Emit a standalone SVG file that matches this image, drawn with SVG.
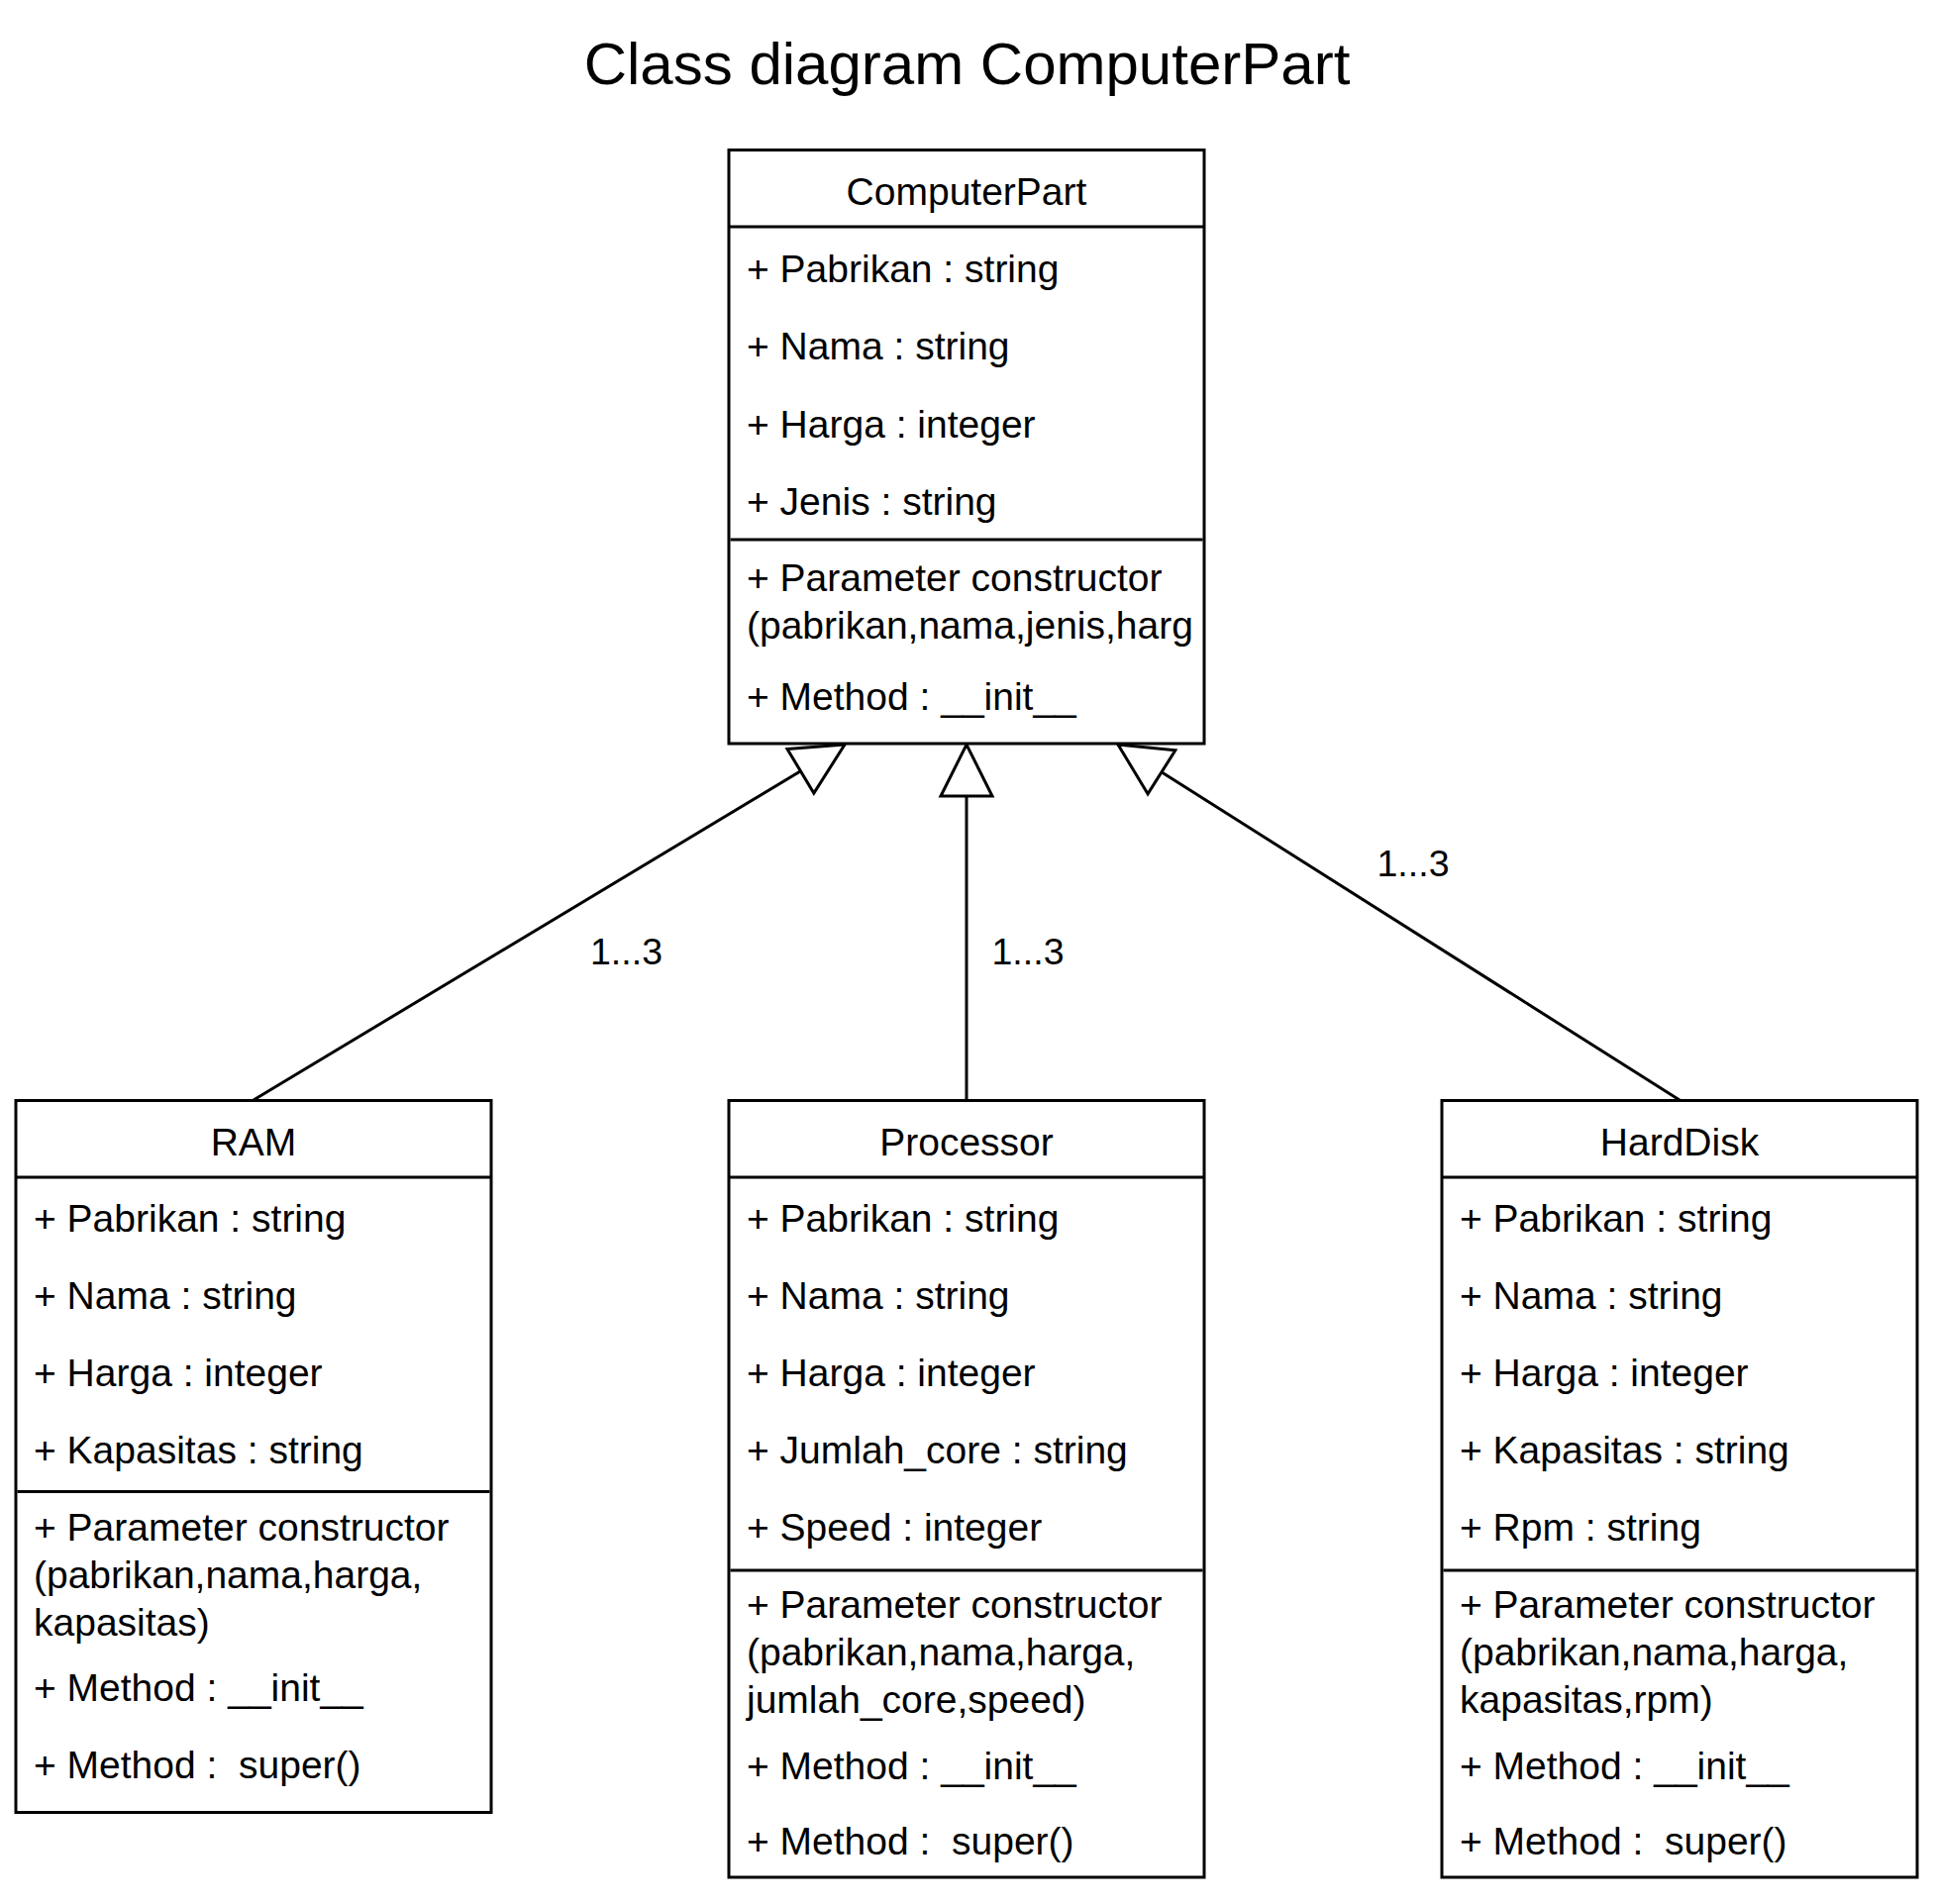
<svg xmlns="http://www.w3.org/2000/svg" width="1956" height="1923" viewBox="0 0 1956 1923">
<style>
text{font-family:"Liberation Sans",Arial,Helvetica,sans-serif;fill:#000;white-space:pre}
.t{font-size:39px}
.h{font-size:39px;text-anchor:middle}
.lbl{font-size:37.5px;text-anchor:middle}
.title{font-size:60px;text-anchor:middle}
.box{fill:#fff;stroke:#000;stroke-width:3}
.ln{stroke:#000;stroke-width:3;fill:none}
.edge{stroke:#000;stroke-width:3;fill:none;marker-end:url(#inh)}
</style>
<defs>
<marker id="inh" viewBox="-4 -4 60 60" refX="52" refY="26" markerWidth="60" markerHeight="60" markerUnits="userSpaceOnUse" orient="auto" overflow="visible">
<path d="M0 0 L52 26 L0 52 Z" fill="#fff" stroke="#000" stroke-width="3"/>
</marker>
</defs>
<rect width="1956" height="1923" fill="#fff"/>
<text class="title" x="976.5" y="85">Class diagram ComputerPart</text>

<g id="connectors">
<path class="edge" d="M256 1111 L853 752"/>
<path class="edge" d="M976 1111 L976 752"/>
<path class="edge" d="M1696 1111 L1129 752"/>
<text class="lbl" x="632.5" y="974">1...3</text>
<text class="lbl" x="1038" y="974">1...3</text>
<text class="lbl" x="1427" y="885">1...3</text>
</g>

<g id="ComputerPart">
<rect class="box" x="736" y="151.5" width="480" height="599.5"/>
<line class="ln" x1="736" y1="229" x2="1216" y2="229"/>
<line class="ln" x1="737.5" y1="545" x2="1214.5" y2="545"/>
<text class="h" x="976" y="207">ComputerPart</text>
<text class="t" x="754" y="285">+ Pabrikan : string</text>
<text class="t" x="754" y="363">+ Nama : string</text>
<text class="t" x="754" y="441.5">+ Harga : integer</text>
<text class="t" x="754" y="519.5">+ Jenis : string</text>
<text class="t" x="754" y="596.5">+ Parameter constructor</text>
<text class="t" x="754" y="645">(pabrikan,nama,jenis,harg</text>
<text class="t" x="754" y="716.5">+ Method : __init__</text>
</g>

<g id="RAM">
<rect class="box" x="16" y="1111.5" width="480" height="719"/>
<line class="ln" x1="16" y1="1189" x2="496" y2="1189"/>
<line class="ln" x1="17.5" y1="1506.5" x2="494.5" y2="1506.5"/>
<text class="h" x="256" y="1167">RAM</text>
<text class="t" x="34" y="1244">+ Pabrikan : string</text>
<text class="t" x="34" y="1322">+ Nama : string</text>
<text class="t" x="34" y="1400">+ Harga : integer</text>
<text class="t" x="34" y="1478">+ Kapasitas : string</text>
<text class="t" x="34" y="1556">+ Parameter constructor</text>
<text class="t" x="34" y="1604">(pabrikan,nama,harga,</text>
<text class="t" x="34" y="1652">kapasitas)</text>
<text class="t" x="34" y="1718">+ Method : __init__</text>
<text class="t" x="34" y="1796">+ Method :  super()</text>
</g>

<g id="Processor">
<rect class="box" x="736" y="1111.5" width="480" height="784.5"/>
<line class="ln" x1="736" y1="1189" x2="1216" y2="1189"/>
<line class="ln" x1="737.5" y1="1586" x2="1214.5" y2="1586"/>
<text class="h" x="976" y="1167">Processor</text>
<text class="t" x="754" y="1244">+ Pabrikan : string</text>
<text class="t" x="754" y="1322">+ Nama : string</text>
<text class="t" x="754" y="1400">+ Harga : integer</text>
<text class="t" x="754" y="1478">+ Jumlah_core : string</text>
<text class="t" x="754" y="1556">+ Speed : integer</text>
<text class="t" x="754" y="1633.5">+ Parameter constructor</text>
<text class="t" x="754" y="1681.5">(pabrikan,nama,harga,</text>
<text class="t" x="754" y="1729.5">jumlah_core,speed)</text>
<text class="t" x="754" y="1797">+ Method : __init__</text>
<text class="t" x="754" y="1873">+ Method :  super()</text>
</g>

<g id="HardDisk">
<rect class="box" x="1456" y="1111.5" width="480" height="784.5"/>
<line class="ln" x1="1456" y1="1189" x2="1936" y2="1189"/>
<line class="ln" x1="1457.5" y1="1586" x2="1934.5" y2="1586"/>
<text class="h" x="1696" y="1167">HardDisk</text>
<text class="t" x="1474" y="1244">+ Pabrikan : string</text>
<text class="t" x="1474" y="1322">+ Nama : string</text>
<text class="t" x="1474" y="1400">+ Harga : integer</text>
<text class="t" x="1474" y="1478">+ Kapasitas : string</text>
<text class="t" x="1474" y="1556">+ Rpm : string</text>
<text class="t" x="1474" y="1633.5">+ Parameter constructor</text>
<text class="t" x="1474" y="1681.5">(pabrikan,nama,harga,</text>
<text class="t" x="1474" y="1729.5">kapasitas,rpm)</text>
<text class="t" x="1474" y="1797">+ Method : __init__</text>
<text class="t" x="1474" y="1873">+ Method :  super()</text>
</g>
</svg>
